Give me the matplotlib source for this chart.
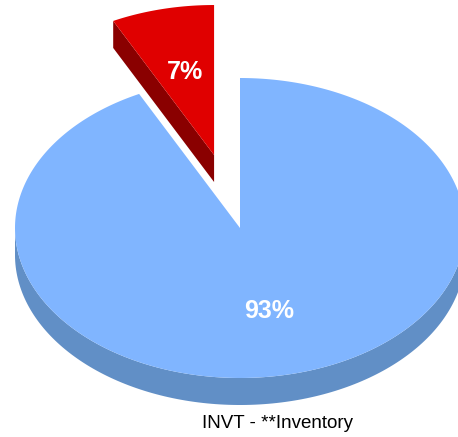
import numpy as np
import matplotlib.pyplot as plt
from matplotlib.patches import Polygon

labels = ['INVT', 'Other']
values = [7.4, 92.6]
top_colors = ['#E00000', '#80B5FF']
side_colors = ['#8A0000', '#618FC6']
explode = [0.5, 0.0]
title = 'INVT - **Inventory'

# pie geometry in pixel coordinates (y grows downwards)
cx, cy = 240, 228
rx, ry = 225, 150
depth = 27


def pt(t, r=1.0, off=(0, 0)):
    return (off[0] + cx + r * rx * np.cos(t), off[1] + cy - r * ry * np.sin(t))


fig = plt.figure(figsize=(4.58, 4.37), dpi=100)
ax = fig.add_axes([0, 0, 1, 1])
ax.set_xlim(0, 458)
ax.set_ylim(437, 0)
ax.axis('off')

fracs = np.array(values) / sum(values)
start = np.pi / 2
for lab, f, ctop, cside, ex in zip(labels, fracs, top_colors, side_colors, explode):
    t0, t1 = start, start + f * 2 * np.pi
    mid = (t0 + t1) / 2
    off = (ex * rx * np.cos(mid), -ex * ry * np.sin(mid))
    ts = np.linspace(t0, t1, 300)

    # side walls first
    # outer curved wall on the front half
    front = ts[np.sin(ts) < 0]
    if len(front):
        upper = [pt(t, off=off) for t in front]
        lower = [(x, y + depth) for x, y in upper[::-1]]
        ax.add_patch(Polygon(upper + lower, closed=True, fc=cside, ec='none'))
    # straight wall on the end edge when it faces the viewer
    if np.cos(t1) < 0 and np.sin(t1) > 0:
        a = pt(0, 0, off)
        b = pt(t1, off=off)
        ax.add_patch(Polygon([a, b, (b[0], b[1] + depth), (a[0], a[1] + depth)],
                             closed=True, fc=cside, ec='none'))

    # top face
    verts = [pt(0, 0, off)] + [pt(t, off=off) for t in ts]
    ax.add_patch(Polygon(verts, closed=True, fc=ctop, ec='none'))

    lx, ly = pt(mid, 0.57, off)
    ax.text(lx, ly, f'{round(f * 100)}%', color='white', fontsize=18,
            fontweight='bold', family='Liberation Sans', ha='center', va='center')
    start = t1

ax.text(277, 424, title, fontsize=13.5, family='Liberation Sans',
        ha='center', va='center', color='black')

fig.savefig('out.png', dpi=100)
